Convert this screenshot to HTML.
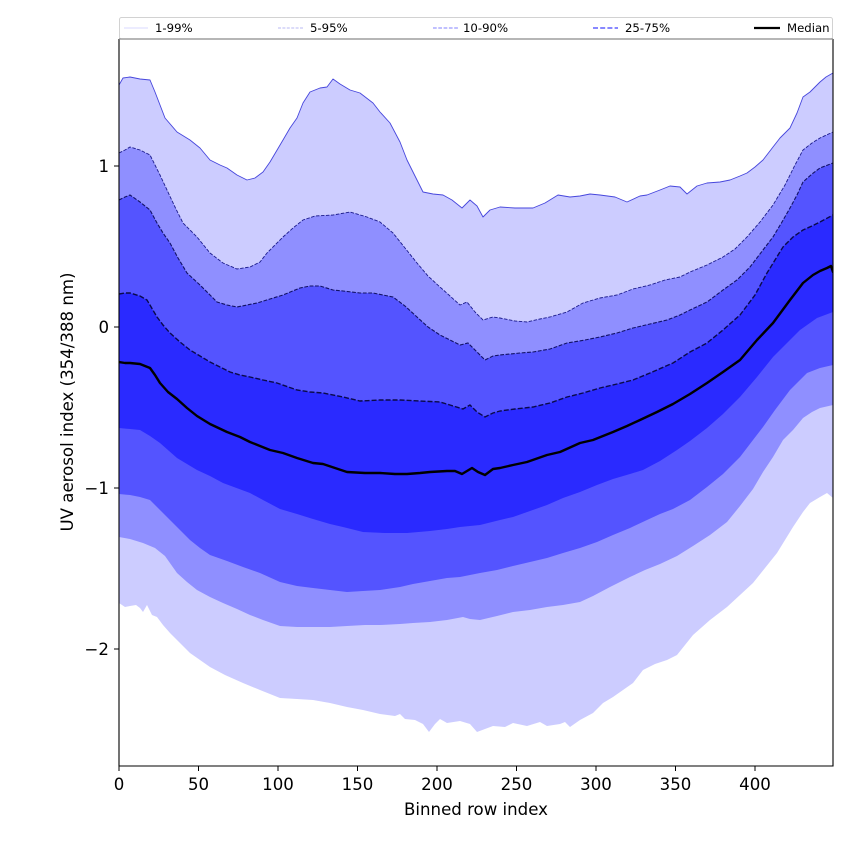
<!DOCTYPE html>
<html>
<head>
<meta charset="utf-8">
<style>
  html,body{margin:0;padding:0;background:#ffffff;}
  svg{display:block;}
  text{font-family:"DejaVu Sans","Liberation Sans",sans-serif;fill:#000;}
</style>
</head>
<body>
<svg width="850" height="850" viewBox="0 0 850 850" xmlns="http://www.w3.org/2000/svg">
  <rect x="0" y="0" width="850" height="850" fill="#ffffff"/>
  <defs>
    <clipPath id="ax">
      <rect x="119" y="39" width="714" height="727"/>
    </clipPath>
  </defs>

  <g clip-path="url(#ax)">
    <!-- 1-99% band -->
    <path fill="#ccccff" stroke="none" d="M119,85 L123,78 L130,77 L140,79 L150,80 L155,92 L160,105 L165,118 L177,132 L190,140 L200,148 L210,160 L220,165 L227,168 L237,175 L247,180 L255,178 L263,172 L270,162 L283,140 L290,128 L297,118 L303,103 L310,92 L320,88 L327,87 L333,79 L340,84 L350,90 L360,93 L373,103 L380,112 L390,123 L400,142 L407,160 L412,170 L423,192 L433,194 L443,195 L452,200 L462,208 L470,200 L477,206 L483,217 L490,210 L500,207 L515,208 L533,208 L545,203 L558,195 L570,197 L580,196 L590,194 L600,195 L615,197 L627,202 L640,196 L647,195 L660,190 L670,186 L680,187 L687,194 L697,186 L707,183 L720,182 L730,180 L740,176 L747,173 L755,167 L763,160 L773,147 L780,138 L790,128 L797,113 L803,97 L810,92 L820,82 L826,77 L833,73
      L833,498 L827,493 L820,497 L810,503 L803,512 L793,527 L777,553 L765,568 L753,583 L740,595 L727,607 L710,620 L693,635 L677,655 L667,660 L655,664 L643,670 L633,683 L623,690 L613,697 L603,703 L593,713 L580,720 L570,727 L565,722 L560,724 L547,726 L540,722 L527,726 L513,723 L505,727 L493,726 L485,729 L477,732 L470,724 L460,721 L447,723 L440,719 L435,724 L429,732 L423,724 L415,720 L405,719 L400,714 L395,716 L380,714 L363,710 L347,707 L330,703 L313,700 L297,699 L280,698 L260,690 L243,683 L225,675 L210,667 L200,660 L190,653 L180,643 L170,633 L163,625 L157,617 L152,615 L147,605 L143,612 L140,608 L136,605 L130,606 L125,607 L119,603 Z"/>
    <!-- 5-95% band -->
    <path fill="#8f8fff" stroke="none" d="M119,153 L125,150 L130,147 L140,150 L150,155 L155,165 L160,175 L167,190 L175,207 L183,223 L190,230 L197,237 L210,253 L223,263 L237,269 L250,267 L260,262 L267,253 L275,245 L283,237 L293,228 L303,220 L315,216 L333,215 L350,212 L367,217 L380,222 L393,233 L405,248 L417,263 L428,276 L440,287 L450,296 L460,305 L467,302 L475,312 L483,320 L493,317 L500,318 L515,321 L527,322 L540,319 L550,317 L567,312 L583,303 L600,298 L617,295 L633,289 L650,285 L665,280 L680,277 L690,272 L707,265 L723,257 L735,249 L747,237 L760,222 L773,205 L785,185 L795,165 L803,150 L812,143 L820,138 L833,132
      L833,405 L820,408 L812,412 L803,418 L793,430 L783,440 L773,457 L763,472 L753,489 L740,506 L727,522 L710,535 L693,546 L677,556 L660,564 L645,570 L630,577 L610,587 L593,596 L580,602 L563,605 L547,607 L530,610 L513,612 L497,616 L480,620 L470,619 L463,617 L447,620 L430,622 L413,623 L400,624 L380,625 L365,625 L347,626 L330,627 L313,627 L297,627 L280,626 L263,620 L250,615 L237,609 L223,603 L210,597 L197,590 L187,582 L177,573 L165,556 L155,548 L143,543 L130,539 L119,537 Z"/>
    <!-- 10-90% band -->
    <path fill="#5454ff" stroke="none" d="M119,200 L125,197 L130,195 L140,202 L150,210 L157,223 L163,233 L170,243 L178,258 L187,273 L200,285 L210,295 L217,302 L227,305 L237,307 L247,305 L257,303 L270,299 L283,295 L300,288 L310,286 L320,286 L333,290 L343,291 L360,293 L373,293 L393,297 L405,306 L417,317 L428,327 L440,335 L450,340 L460,345 L468,343 L477,352 L485,360 L493,356 L500,355 L520,353 L533,352 L550,349 L567,343 L585,340 L600,337 L617,333 L633,328 L650,324 L667,320 L680,315 L690,310 L707,302 L723,290 L737,280 L750,267 L763,250 L773,237 L782,222 L790,208 L797,195 L803,182 L812,174 L820,168 L833,163
      L833,365 L820,368 L807,373 L800,380 L790,390 L775,410 L763,427 L753,440 L740,457 L723,474 L707,487 L690,500 L673,509 L660,514 L647,520 L630,528 L613,535 L597,542 L580,548 L563,553 L547,558 L530,562 L513,566 L497,570 L480,573 L460,577 L447,578 L430,581 L413,584 L400,587 L380,590 L363,591 L347,592 L330,590 L313,588 L297,586 L280,582 L260,573 L243,567 L227,561 L210,555 L200,548 L190,540 L180,530 L170,520 L160,510 L150,500 L140,497 L130,495 L119,494 Z"/>
    <!-- 25-75% band -->
    <path fill="#2a2aff" stroke="none" d="M119,294 L125,293 L130,293 L140,296 L147,300 L157,317 L163,325 L170,333 L180,342 L190,350 L200,356 L210,362 L220,367 L230,372 L240,375 L250,377 L263,380 L277,383 L297,390 L310,392 L323,393 L343,397 L360,401 L380,400 L400,400 L420,401 L440,402 L450,405 L463,409 L470,405 L477,412 L485,417 L493,413 L500,411 L515,409 L533,407 L550,403 L567,397 L583,393 L600,388 L617,384 L633,380 L650,373 L673,363 L690,352 L707,343 L723,330 L740,315 L755,295 L767,273 L775,260 L783,247 L793,237 L803,230 L812,226 L820,222 L833,215
      L833,312 L817,318 L800,330 L787,343 L773,357 L757,377 L740,397 L723,414 L707,428 L690,441 L677,450 L660,461 L643,470 L630,474 L613,479 L597,485 L580,492 L563,498 L547,505 L530,511 L513,517 L500,520 L480,525 L460,527 L447,529 L430,531 L407,533 L385,533 L363,532 L343,527 L330,524 L313,519 L297,514 L280,509 L263,500 L250,493 L223,483 L210,476 L197,470 L177,458 L160,443 L150,436 L140,430 L130,429 L119,428 Z"/>

    <!-- boundary lines -->
    <path fill="none" stroke="#4646dc" stroke-width="0.9" stroke-linejoin="round" d="M119,85 L123,78 L130,77 L140,79 L150,80 L155,92 L160,105 L165,118 L177,132 L190,140 L200,148 L210,160 L220,165 L227,168 L237,175 L247,180 L255,178 L263,172 L270,162 L283,140 L290,128 L297,118 L303,103 L310,92 L320,88 L327,87 L333,79 L340,84 L350,90 L360,93 L373,103 L380,112 L390,123 L400,142 L407,160 L412,170 L423,192 L433,194 L443,195 L452,200 L462,208 L470,200 L477,206 L483,217 L490,210 L500,207 L515,208 L533,208 L545,203 L558,195 L570,197 L580,196 L590,194 L600,195 L615,197 L627,202 L640,196 L647,195 L660,190 L670,186 L680,187 L687,194 L697,186 L707,183 L720,182 L730,180 L740,176 L747,173 L755,167 L763,160 L773,147 L780,138 L790,128 L797,113 L803,97 L810,92 L820,82 L826,77 L833,73"/>
    <path fill="none" stroke="#1c1c8c" stroke-width="0.9" stroke-dasharray="3.5 1.5" d="M119,153 L125,150 L130,147 L140,150 L150,155 L155,165 L160,175 L167,190 L175,207 L183,223 L190,230 L197,237 L210,253 L223,263 L237,269 L250,267 L260,262 L267,253 L275,245 L283,237 L293,228 L303,220 L315,216 L333,215 L350,212 L367,217 L380,222 L393,233 L405,248 L417,263 L428,276 L440,287 L450,296 L460,305 L467,302 L475,312 L483,320 L493,317 L500,318 L515,321 L527,322 L540,319 L550,317 L567,312 L583,303 L600,298 L617,295 L633,289 L650,285 L665,280 L680,277 L690,272 L707,265 L723,257 L735,249 L747,237 L760,222 L773,205 L785,185 L795,165 L803,150 L812,143 L820,138 L833,132"/>
    <path fill="none" stroke="#121266" stroke-width="1.1" stroke-dasharray="3.8 1.6" d="M119,200 L125,197 L130,195 L140,202 L150,210 L157,223 L163,233 L170,243 L178,258 L187,273 L200,285 L210,295 L217,302 L227,305 L237,307 L247,305 L257,303 L270,299 L283,295 L300,288 L310,286 L320,286 L333,290 L343,291 L360,293 L373,293 L393,297 L405,306 L417,317 L428,327 L440,335 L450,340 L460,345 L468,343 L477,352 L485,360 L493,356 L500,355 L520,353 L533,352 L550,349 L567,343 L585,340 L600,337 L617,333 L633,328 L650,324 L667,320 L680,315 L690,310 L707,302 L723,290 L737,280 L750,267 L763,250 L773,237 L782,222 L790,208 L797,195 L803,182 L812,174 L820,168 L833,163"/>
    <path fill="none" stroke="#0a0a4a" stroke-width="1.4" stroke-dasharray="5 2" d="M119,294 L125,293 L130,293 L140,296 L147,300 L157,317 L163,325 L170,333 L180,342 L190,350 L200,356 L210,362 L220,367 L230,372 L240,375 L250,377 L263,380 L277,383 L297,390 L310,392 L323,393 L343,397 L360,401 L380,400 L400,400 L420,401 L440,402 L450,405 L463,409 L470,405 L477,412 L485,417 L493,413 L500,411 L515,409 L533,407 L550,403 L567,397 L583,393 L600,388 L617,384 L633,380 L650,373 L673,363 L690,352 L707,343 L723,330 L740,315 L755,295 L767,273 L775,260 L783,247 L793,237 L803,230 L812,226 L820,222 L833,215"/>
    <!-- median -->
    <path fill="none" stroke="#000000" stroke-width="2.4" stroke-linejoin="round" stroke-linecap="round" d="M119,362 L125,363 L130,363 L140,364 L150,368 L155,375 L160,383 L168,392 L177,399 L187,408 L197,416 L210,424 L227,432 L240,437 L250,442 L260,446 L270,450 L283,453 L297,458 L313,463 L323,464 L335,468 L347,472 L365,473 L380,473 L395,474 L407,474 L420,473 L430,472 L447,471 L455,471 L462,474 L467,471 L472,468 L478,472 L485,475 L493,469 L500,468 L513,465 L527,462 L547,455 L560,452 L580,443 L593,440 L613,432 L627,426 L640,420 L657,412 L673,404 L690,394 L707,383 L723,372 L740,360 L757,340 L773,323 L790,300 L803,283 L813,275 L820,271 L827,268 L831,266 L833,272"/>
  </g>

  <!-- spines -->
  <line x1="119" y1="39" x2="119" y2="766.5" stroke="#000" stroke-width="1.1"/>
  <line x1="833" y1="39" x2="833" y2="766.5" stroke="#000" stroke-width="1.1"/>
  <line x1="118.5" y1="766" x2="833.5" y2="766" stroke="#000" stroke-width="1.1"/>

  <!-- x ticks -->
  <g stroke="#000" stroke-width="1">
    <line x1="119" y1="766" x2="119" y2="771"/>
    <line x1="198.5" y1="766" x2="198.5" y2="771"/>
    <line x1="278" y1="766" x2="278" y2="771"/>
    <line x1="357.5" y1="766" x2="357.5" y2="771"/>
    <line x1="437" y1="766" x2="437" y2="771"/>
    <line x1="516.5" y1="766" x2="516.5" y2="771"/>
    <line x1="596" y1="766" x2="596" y2="771"/>
    <line x1="675.5" y1="766" x2="675.5" y2="771"/>
    <line x1="755" y1="766" x2="755" y2="771"/>
    <line x1="114" y1="166" x2="119" y2="166"/>
    <line x1="114" y1="327" x2="119" y2="327"/>
    <line x1="114" y1="488" x2="119" y2="488"/>
    <line x1="114" y1="649" x2="119" y2="649"/>
  </g>
  <g font-size="16.6" text-anchor="middle">
    <text x="119" y="790">0</text>
    <text x="198.5" y="790">50</text>
    <text x="278" y="790">100</text>
    <text x="357.5" y="790">150</text>
    <text x="437" y="790">200</text>
    <text x="516.5" y="790">250</text>
    <text x="596" y="790">300</text>
    <text x="675.5" y="790">350</text>
    <text x="755" y="790">400</text>
  </g>
  <g font-size="16.6" text-anchor="end">
    <text x="109" y="172">1</text>
    <text x="109" y="333">0</text>
    <text x="109" y="494">−1</text>
    <text x="109" y="655">−2</text>
  </g>
  <text x="476" y="815" font-size="16.6" text-anchor="middle">Binned row index</text>
  <text transform="translate(73,402) rotate(-90)" font-size="16.6" text-anchor="middle">UV aerosol index (354/388 nm)</text>

  <!-- legend -->
  <rect x="119.5" y="17.5" width="713" height="21.5" rx="2" ry="2" fill="#ffffff" fill-opacity="0.9" stroke="#d2d2d2" stroke-width="1"/>
  <line x1="119" y1="39" x2="833" y2="39" stroke="#8a8a8a" stroke-width="1.2"/>
  <line x1="124" y1="28" x2="148" y2="28" stroke="#ccccff" stroke-width="0.8"/>
  <line x1="278" y1="28" x2="303" y2="28" stroke="#a4a4f0" stroke-width="0.8" stroke-dasharray="3 1.4"/>
  <line x1="433" y1="28" x2="458" y2="28" stroke="#8080ff" stroke-width="1" stroke-dasharray="3.7 1.6"/>
  <line x1="593" y1="28" x2="618" y2="28" stroke="#6060ff" stroke-width="1.6" stroke-dasharray="5 2.2"/>
  <line x1="754" y1="28" x2="780" y2="28" stroke="#000000" stroke-width="2.2"/>
  <g font-size="11.7">
    <text x="155" y="32">1-99%</text>
    <text x="310" y="32">5-95%</text>
    <text x="463" y="32">10-90%</text>
    <text x="625" y="32">25-75%</text>
    <text x="787" y="32">Median</text>
  </g>
</svg>
</body>
</html>
